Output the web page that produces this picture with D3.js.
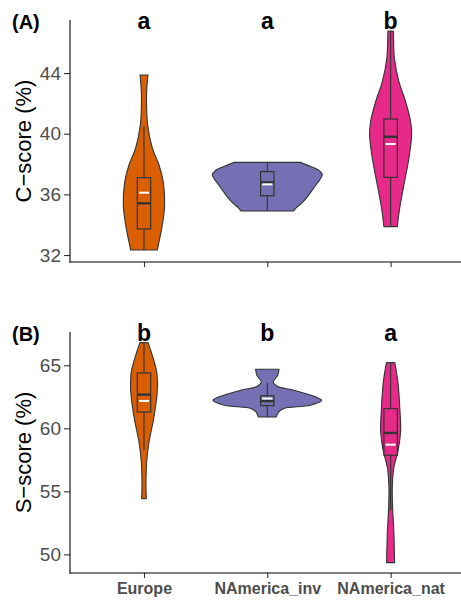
<!DOCTYPE html>
<html>
<head>
<meta charset="utf-8">
<script src="https://cdn.jsdelivr.net/npm/d3@7"></script>
<style>
  html, body { margin: 0; padding: 0; background: #ffffff; }
  svg { display: block; font-family: "Liberation Sans", Arial, sans-serif; }
</style>
</head>
<body>
<svg id="chart" width="461" height="600"></svg>
<script>
// ---------------- DATA ----------------
const categories = ["Europe", "NAmerica_inv", "NAmerica_nat"];
const groupColors = ["#D95F02", "#7570B3", "#E7298A"];

// Panel A: C-score (%) violin outlines  [value, relative half-width]
const cEuropeDensity = [[43.87,0.073],[43.2,0.055],[42.35,0.045],[40.57,0.067],[39.06,0.151],[37.94,0.273],[36.81,0.351],[35.30,0.376],[33.98,0.333],[32.86,0.273],[32.33,0.242]];
const cInvDensity = [[38.11,0.60],[37.85,0.78],[37.55,0.95],[37.30,1.00],[37.00,0.96],[36.60,0.88],[36.20,0.80],[35.80,0.72],[35.40,0.62],[35.10,0.52],[34.90,0.48]];
const cNatDensity = [[46.77,0.049],[45.9,0.055],[44.97,0.069],[43.43,0.151],[42.11,0.273],[40.79,0.364],[39.91,0.382],[38.38,0.333],[36.62,0.242],[35.08,0.164],[33.87,0.122]];

// Panel A box statistics (per category)
const cWhiskerLow = [32.33, 34.90, 33.87];
const cQ1 = [33.72, 35.91, 37.12];
const cMedian = [35.41, 36.79, 39.80];
const cQ3 = [37.10, 37.50, 40.97];
const cWhiskerHigh = [40.51, 38.11, 46.77];
const cMean = [36.11, 36.66, 39.32];
const cLetters = ["a", "a", "b"];
const cTicks = [32, 36, 40, 44];

// Panel B: S-score (%) violin outlines
const sEuropeDensity = [[66.80,0.073],[65.79,0.151],[64.47,0.231],[63.5,0.245],[62.62,0.236],[60.77,0.176],[58.91,0.091],[57.33,0.049],[55.48,0.036],[54.42,0.042]];
const sInvDensity = [[64.68,0.213],[64.21,0.19],[63.67,0.109],[63.33,0.18],[63.02,0.485],[62.48,0.89],[62.22,0.99],[61.83,0.78],[61.56,0.29],[61.27,0.20],[60.90,0.164]];
const sNatDensity = [[65.21,0.076],[63.55,0.136],[61.56,0.167],[59.84,0.182],[58.25,0.136],[56.93,0.06],[55.34,0.031],[53.75,0.036],[51.64,0.06],[49.34,0.073]];

const sWhiskerLow = [58.25, 60.90, 53.49];
const sQ1 = [61.29, 61.80, 57.86];
const sMedian = [62.67, 62.16, 59.63];
const sQ3 = [64.39, 62.58, 61.56];
const sWhiskerHigh = [66.80, 63.62, 65.21];
const sMean = [62.17, 62.36, 58.70];
const sLetters = ["b", "b", "a"];
const sTicks = [50, 55, 60, 65];

// ---------------- LAYOUT ----------------
const svg = d3.select("#chart");
const plotLeft = 70, plotRight = 464.6;
const x = d3.scalePoint().domain(categories).range([plotLeft, plotRight]).padding(0.6);
const halfW = d3.scaleLinear().domain([0, 1]).range([0, 55]);
const boxHalf = 6.7;
const outline = "#333333";

const panels = [
  { tag: "(A)", title: "C\u2212score (%)", top: 20, bottom: 262, domain: [31.54, 47.5],
    dens: [cEuropeDensity, cInvDensity, cNatDensity],
    lo: cWhiskerLow, q1: cQ1, med: cMedian, q3: cQ3, hi: cWhiskerHigh, mean: cMean,
    letters: cLetters, ticks: cTicks, xlabels: false },
  { tag: "(B)", title: "S\u2212score (%)", top: 332, bottom: 573, domain: [48.52, 67.64],
    dens: [sEuropeDensity, sInvDensity, sNatDensity],
    lo: sWhiskerLow, q1: sQ1, med: sMedian, q3: sQ3, hi: sWhiskerHigh, mean: sMean,
    letters: sLetters, ticks: sTicks, xlabels: true }
];

panels.forEach(p => {
  const y = d3.scaleLinear().domain(p.domain).range([p.bottom, p.top]);
  const g = svg.append("g");

  // violins
  categories.forEach((cat, i) => {
    const cx = x(cat);
    const area = d3.area()
      .y(d => y(d[0]))
      .x0(d => cx - halfW(d[1]))
      .x1(d => cx + halfW(d[1]))
      .curve(d3.curveCatmullRom.alpha(0.5));
    g.append("path")
      .datum(p.dens[i])
      .attr("d", area)
      .attr("fill", groupColors[i])
      .attr("stroke", outline)
      .attr("stroke-width", 1.1)
      .attr("stroke-linejoin", "round");
  });

  // boxplots
  categories.forEach((cat, i) => {
    const cx = x(cat);
    g.append("line")
      .attr("x1", cx).attr("x2", cx)
      .attr("y1", y(p.hi[i])).attr("y2", y(p.q3[i]))
      .attr("stroke", outline).attr("stroke-width", 1.1);
    g.append("line")
      .attr("x1", cx).attr("x2", cx)
      .attr("y1", y(p.q1[i])).attr("y2", y(p.lo[i]))
      .attr("stroke", outline).attr("stroke-width", 1.1);
    g.append("rect")
      .attr("x", cx - boxHalf).attr("width", boxHalf * 2)
      .attr("y", y(p.q3[i])).attr("height", y(p.q1[i]) - y(p.q3[i]))
      .attr("fill", groupColors[i])
      .attr("stroke", outline).attr("stroke-width", 1.2);
    g.append("line")
      .attr("x1", cx - boxHalf).attr("x2", cx + boxHalf)
      .attr("y1", y(p.med[i])).attr("y2", y(p.med[i]))
      .attr("stroke", outline).attr("stroke-width", 2.4);
    g.append("line")
      .attr("x1", cx - boxHalf + 1.6).attr("x2", cx + boxHalf - 1.6)
      .attr("y1", y(p.mean[i])).attr("y2", y(p.mean[i]))
      .attr("stroke", "#ffffff").attr("stroke-width", 2);
  });

  // axes
  const yAxis = d3.axisLeft(y).tickValues(p.ticks).tickSize(6).tickPadding(3).tickFormat(d3.format("d"));
  const ya = g.append("g").attr("transform", `translate(${plotLeft},0)`).call(yAxis);
  ya.select(".domain").remove();
  ya.selectAll(".tick line").attr("stroke", "#333333").attr("stroke-width", 1.1);
  ya.selectAll(".tick text").attr("fill", "#4D4D4D").attr("font-size", 19)
    .attr("font-family", "Liberation Sans, Arial, sans-serif");
  g.append("line").attr("x1", plotLeft).attr("x2", plotLeft)
    .attr("y1", p.top).attr("y2", p.bottom + 0.5)
    .attr("stroke", "#000").attr("stroke-width", 1.1);

  const xAxis = d3.axisBottom(x).tickSize(5).tickPadding(5);
  const xa = g.append("g").attr("transform", `translate(0,${p.bottom})`).call(xAxis);
  xa.select(".domain").remove();
  xa.selectAll(".tick line").attr("stroke", "#333333").attr("stroke-width", 1.1);
  if (p.xlabels) {
    xa.selectAll(".tick text").attr("fill", "#4D4D4D").attr("font-size", 16)
      .attr("font-weight", "bold").attr("font-family", "Liberation Sans, Arial, sans-serif");
  } else {
    xa.selectAll(".tick text").remove();
  }
  g.append("line").attr("x1", plotLeft - 0.5).attr("x2", 461)
    .attr("y1", p.bottom).attr("y2", p.bottom)
    .attr("stroke", "#000").attr("stroke-width", 1.1);

  // axis title
  g.append("text")
    .attr("transform", `translate(31,${(p.top + p.bottom) / 2}) rotate(-90)`)
    .attr("text-anchor", "middle")
    .attr("font-size", 22)
    .attr("fill", "#000")
    .text(p.title);

  // panel tag
  g.append("text")
    .attr("x", 12).attr("y", p.top + 9)
    .attr("font-size", 20).attr("font-weight", "bold").attr("fill", "#000")
    .text(p.tag);

  // significance letters
  categories.forEach((cat, i) => {
    g.append("text")
      .attr("x", x(cat)).attr("y", p.top + 9)
      .attr("text-anchor", "middle")
      .attr("font-size", 23).attr("font-weight", "bold").attr("fill", "#000")
      .text(p.letters[i]);
  });
});
</script>
</body>
</html>
